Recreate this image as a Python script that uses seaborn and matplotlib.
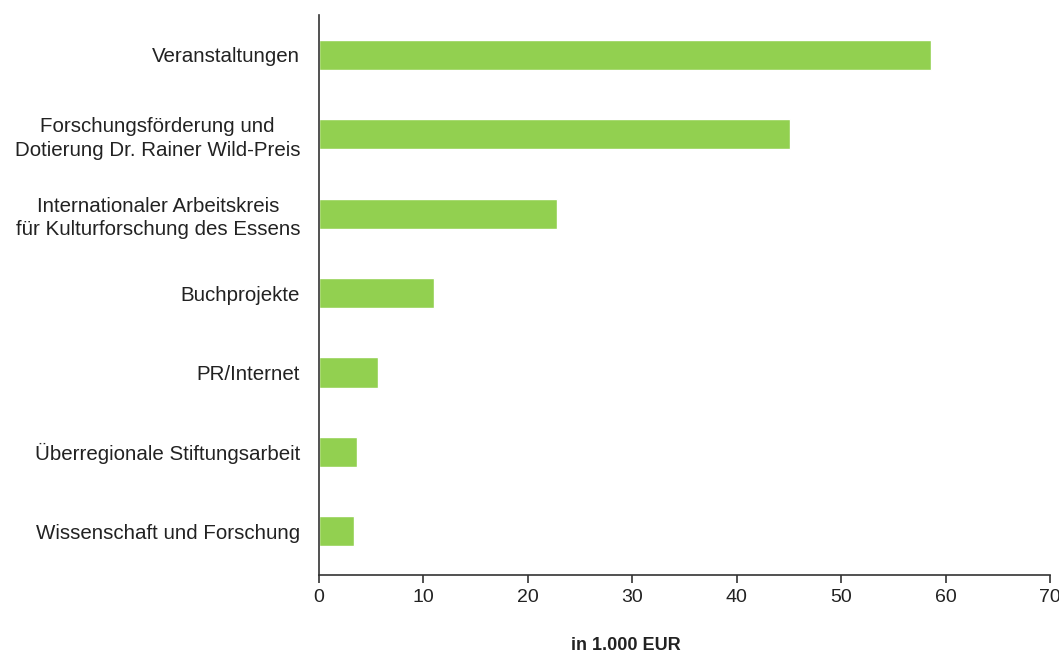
import matplotlib
matplotlib.use("Agg")
import matplotlib.pyplot as plt
import seaborn as sns
import pandas as pd

categories = [
    "Veranstaltungen",
    "Forschungsförderung und\nDotierung Dr. Rainer Wild-Preis",
    "Internationaler Arbeitskreis\nfür Kulturforschung des Essens",
    "Buchprojekte",
    "PR/Internet",
    "Überregionale Stiftungsarbeit",
    "Wissenschaft und Forschung",
]
values = [58.6, 45.1, 22.8, 11.0, 5.65, 3.7, 3.35]
xticks = [0, 10, 20, 30, 40, 50, 60, 70]
xlabel = "in 1.000 EUR"

sns.set_theme(style="white")
plt.rcParams["font.family"] = ["Liberation Sans", "DejaVu Sans"]

df = pd.DataFrame({"cat": categories, "val": values})

fig = plt.figure(figsize=(10.59, 6.55), dpi=100)
ax = fig.add_axes([0.301, 0.122, 0.6905, 0.855])
sns.barplot(data=df, x="val", y="cat", orient="h", color="#92D050",
            saturation=1, width=0.38, ax=ax)

ax.set_xlim(0, 70)
ax.set_ylim(6.55, -0.5)
ax.set_xticks(xticks)
ax.set_xticklabels([str(t) for t in xticks], fontsize=14, color="#222222")
ax.set_ylabel("")
ax.set_xlabel("")
for lbl in ax.get_yticklabels():
    lbl.set_multialignment("center")
    lbl.set_linespacing(1.3)
    lbl.set_fontsize(14.8)
    lbl.set_color("#222222")

for s in ["top", "right"]:
    ax.spines[s].set_visible(False)
for s in ["left", "bottom"]:
    ax.spines[s].set_color("#333333")
    ax.spines[s].set_linewidth(1.2)
ax.tick_params(axis="x", bottom=True, direction="out", length=6, width=1.2,
               color="#333333", pad=4)
ax.tick_params(axis="y", left=False, pad=7.5)

fig.text(0.591, 0.002, xlabel, ha="center", va="bottom", fontsize=13,
         fontweight="bold", color="#222222")

fig.savefig("out.png", dpi=100)
